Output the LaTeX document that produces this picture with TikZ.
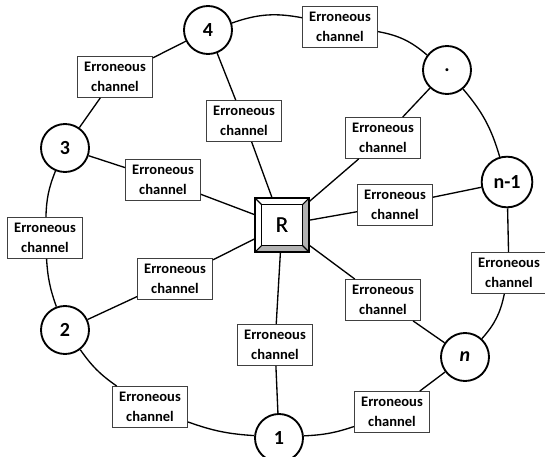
\documentclass[tikz,border=0pt]{standalone}
\usepackage{fontspec}
\setmainfont{Carlito}
\usetikzlibrary{calc}

\begin{document}
\begin{tikzpicture}[x=0.75pt,y=-0.75pt,
    chan/.style={draw=black!75, line width=0.9pt, fill=white, minimum width=56pt, minimum height=30.5pt, inner sep=1pt, align=center, font=\fontsize{10.9}{15}\selectfont\bfseries},
    user/.style={circle, draw, line width=1.4pt, fill=white, minimum size=36pt, inner sep=0pt, font=\fontsize{15}{15}\selectfont\bfseries},
    rkey/.style={minimum size=40pt, inner sep=0pt, font=\fontsize{17}{17}\selectfont},
    link/.style={line width=1pt}]
    \useasboundingbox (0,0) rectangle (545,456);

    % receiver
    \node[rkey] (R) at (282,225) {R};
    \fill[gray!60] (R.north east) -- (R.south east) -- (R.south west) -- ($(R.south west)+(6.5,-6.5)$) -- ($(R.south east)+(-6.5,-6.5)$) -- ($(R.north east)+(-6.5,6.5)$) -- cycle;
    \draw[line width=1.1pt] ($(R.south west)+(6.5,-6.5)$) rectangle ($(R.north east)+(-6.5,6.5)$);
    \draw[line width=0.8pt] (R.north west) -- ++(6.5,6.5) (R.north east) -- ++(-6.5,6.5) (R.south west) -- ++(6.5,-6.5) (R.south east) -- ++(-6.5,-6.5);
    \draw[line width=2pt] (R.south west) rectangle (R.north east);
    \node[rkey] at (R) {R};

    % users
    \node[user] (n1) at (279,438) {1};
    \node[user] (n2) at (65,330) {2};
    \node[user] (n3) at (65,148) {3};
    \node[user] (n4) at (208,30) {4};
    \node[user] (ndot) at (447,70) {.};
    \node[user, minimum size=38pt] (nm1) at (507,182) {n-1};
    \node[user] (nn) at (465,357) {\itshape n};

    % channels
    \node[chan] (c1) at (275,345) {Erroneous\\channel};
    \node[chan] (c2) at (150,407) {Erroneous\\channel};
    \node[chan] (c3) at (392,412) {Erroneous\\channel};
    \node[chan] (c4) at (509,273) {Erroneous\\channel};
    \node[chan] (c5) at (383,300) {Erroneous\\channel};
    \node[chan] (c6) at (395,205) {Erroneous\\channel};
    \node[chan] (c7) at (383,138) {Erroneous\\channel};
    \node[chan] (c8) at (340,27) {Erroneous\\channel};
    \node[chan] (c9) at (244,121) {Erroneous\\channel};
    \node[chan] (c10) at (115,77) {Erroneous\\channel};
    \node[chan] (c11) at (163,180) {Erroneous\\channel};
    \node[chan] (c12) at (45,238) {Erroneous\\channel};
    \node[chan] (c13) at (175,279) {Erroneous\\channel};

    % spokes
    \draw[link] (R) -- (c1) -- (n1);
    \draw[link] (R) -- (c13) -- (n2);
    \draw[link] (R) -- (c11) -- (n3);
    \draw[link] (R) -- (c9) -- (n4);
    \draw[link] (R) -- (c7) -- (ndot);
    \draw[link] (R) -- (c6) -- (nm1);
    \draw[link] (R) -- (c5) -- (nn);

    % ring
    \draw[link] (n4) to[bend left=15] (c8);
    \draw[link] (c8) to[bend left=15] (ndot);
    \draw[link] (ndot) to[bend left=12] (nm1);
    \draw[link] (nm1) -- (c4);
    \draw[link] (c4) to[bend left=15] (nn);
    \draw[link] (nn) -- (c3);
    \draw[link] (c3) to[bend left=8] (n1);
    \draw[link] (n1) to[bend left=8] (c2);
    \draw[link] (c2) to[bend left=10] (n2);
    \draw[link] (n2) to[bend left=8] (c12);
    \draw[link] (c12) to[bend left=10] (n3);
    \draw[link] (n3) -- (c10);
    \draw[link] (c10) -- (n4);
\end{tikzpicture}
\end{document}
